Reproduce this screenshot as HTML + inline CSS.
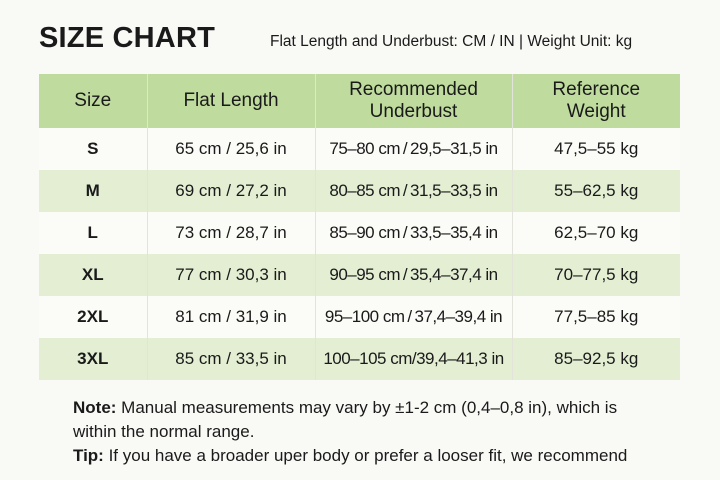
<!DOCTYPE html>
<html><head><style>
body{margin:0;width:720px;height:480px;background:#f9f9f6;font-family:"Liberation Sans","DejaVu Sans",sans-serif;color:#1a1a1a;position:relative;overflow:hidden}
.t{position:absolute;left:39px;top:22px;font-size:29px;font-weight:bold;letter-spacing:0.2px}
.s{position:absolute;left:270px;top:33px;font-size:15.5px}
table{position:absolute;left:39px;top:74px;border-collapse:collapse;width:641px;table-layout:fixed}
td,th{text-align:center;font-size:17px;padding:0;border-left:1px solid #e2e4dc;white-space:nowrap}
td:nth-child(3){letter-spacing:-0.5px;font-size:17px}
td:first-child,th:first-child{border-left:none;font-weight:bold}
th{background:#bfdc9e;height:54px;font-weight:normal;line-height:22px;font-size:19px}
th:first-child{font-weight:normal}
tbody tr{height:42px;background:#fbfbf8}
tbody tr:nth-child(even){background:#e3eed3}
.n{position:absolute;left:73px;top:396px;font-size:17px;line-height:24px;width:590px}
</style></head><body>
<div class="t">SIZE CHART</div>
<div class="s">Flat Length and Underbust: CM / IN | Weight Unit: kg</div>
<table>
<colgroup><col style="width:108px"><col style="width:168px"><col style="width:197px"><col style="width:168px"></colgroup>
<thead><tr><th>Size</th><th>Flat Length</th><th>Recommended<br>Underbust</th><th>Reference<br>Weight</th></tr></thead>
<tbody>
<tr><td>S</td><td>65 cm / 25,6 in</td><td>75–80 cm&#8201;/&#8201;29,5–31,5 in</td><td>47,5–55 kg</td></tr>
<tr><td>M</td><td>69 cm / 27,2 in</td><td>80–85 cm&#8201;/&#8201;31,5–33,5 in</td><td>55–62,5 kg</td></tr>
<tr><td>L</td><td>73 cm / 28,7 in</td><td>85–90 cm&#8201;/&#8201;33,5–35,4 in</td><td>62,5–70 kg</td></tr>
<tr><td>XL</td><td>77 cm / 30,3 in</td><td>90–95 cm&#8201;/&#8201;35,4–37,4 in</td><td>70–77,5 kg</td></tr>
<tr><td>2XL</td><td>81 cm / 31,9 in</td><td>95–100 cm&#8201;/&#8201;37,4–39,4 in</td><td>77,5–85 kg</td></tr>
<tr><td>3XL</td><td>85 cm / 33,5 in</td><td>100–105 cm/39,4–41,3 in</td><td>85–92,5 kg</td></tr>
</tbody></table>
<div class="n"><b>Note:</b> Manual measurements may vary by ±1-2 cm (0,4–0,8 in), which is within the normal range.<br><b>Tip:</b> If you have a broader uper body or prefer a looser fit, we recommend</div>
</body></html>
